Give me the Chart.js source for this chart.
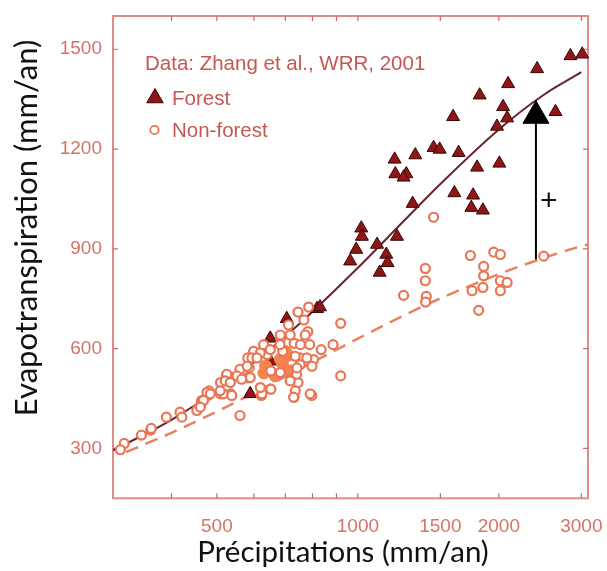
<!DOCTYPE html>
<html><head><meta charset="utf-8">
<script src="https://cdn.jsdelivr.net/npm/chart.js@4.4.0/dist/chart.umd.min.js"></script>
<style>html,body{margin:0;padding:0;background:#fff;}#wrap{width:607px;height:571px;}</style>
</head><body><div id="wrap"><canvas id="c" width="607" height="571"></canvas></div>
<script>
// ---- data ----
const forestP  = [2414,2093,1820,2042,2642,1597,2083,1982,1451,1495,1326,1641,1198,1202,1269,1252,1797,2005,1309,1607,1762,1747,1849,1212,1017,1020,992,963,1099,1150,1157,1113,818,830,2843,3013,705,650,650,589];
const forestET = [1441,1396,1362,1327,1312,1297,1293,1268,1204,1199,1182,1189,1169,1125,1125,1115,1145,1157,1036,1068,1061,1024,1016,937,962,937,898,863,913,883,858,829,720,725,1480,1485,690,631,562,464];

const nonForestP  = [1451,2494,1739,1950,2015,1393,1393,1856,1856,1849,1753,2015,2083,2015,1252,1400,1395,1811,
  919,919,885,797,560,731,745,711,767,782,789,835,804,753,753,745,740,731,684,691,652,652,622,640,599,582,582,586,560,539,524,535,509,509,481,478,455,463,417,390,361,345,317,311,
  362,421,453,464,476,516,538,525,521,552,580,594,619,629,589,624,683,
  785,717,772,754,682,650,609,735,741,778,798,683,565,619,717,735,729,791,534,508,484,468,461];
const nonForestET = [995,878,880,890,883,841,804,847,819,784,774,804,799,774,760,757,740,715,
  676,518,612,459,399,454,710,671,686,651,612,597,567,572,552,498,523,616,631,592,533,478,459,582,592,572,513,542,538,513,518,464,498,464,473,459,419,439,409,394,355,340,315,296,
  360,394,414,444,468,464,459,523,503,518,547,572,587,612,513,464,641,
  725,641,641,612,612,597,572,577,542,572,547,528,508,483,503,473,454,464,498,473,464,444,424];

const filledP  = [635,683,718,666,700,630,690,710];
const filledET = [548,568,533,518,592,527,555,580];

const curveP        = [300,400,500,600,700,800,1000,1250,1500,2000,2500,3000];
const forestCurveET = [294,386,475,558,637,711,843,982,1095,1259,1364,1431];
const grassCurveP   = [320,400,500,600,700,800,1000,1250,1500,2000,2500,3000,3100];
const grassCurveET  = [289,347,411,467,516,559,630,699,751,824,873,908,913];

const arrowP  = [2400,2400];
const arrowET = [868,1300];
const plusPoint = [2556,1046];

const xTickLabels = [500,1000,1500,2000,3000];
const xMinorTicks = [400,500,600,700,800,900,1000,1500,2000,3000];
const yTickLabels = [300,600,900,1200,1500];

const legendTitle = 'Data: Zhang et al., WRR, 2001';
const legendForest = 'Forest';
const legendNonForest = 'Non-forest';
const xTitle = 'Précipitations (mm/an)';
const yTitle = 'Evapotranspiration (mm/an)';

// ---- styles ----
const frameColor = '#e08d89';
const tickLabelColor = '#d47369';
const legendColor = '#c45752';
const triFill = '#8e1616', triEdge = '#3a0606';
const circEdge = '#ea7454';
const filledColor = '#f3844f';
const forestLine = '#6a2232';
const grassLine = '#e98163';

const pts = (xs, ys) => xs.map((x, i) => ({x, y: ys[i]}));

const framePlugin = {
  id: 'frame',
  beforeDatasetsDraw(chart) {
    const {ctx, chartArea: a, scales: {x, y}} = chart;
    ctx.save();
    ctx.strokeStyle = frameColor;
    ctx.lineWidth = 2;
    ctx.strokeRect(a.left, a.top, a.right - a.left, a.bottom - a.top);
    ctx.strokeStyle = '#c86a64';
    ctx.lineWidth = 1.2;
    const L = 5;
    ctx.beginPath();
    xMinorTicks.forEach(v => {
      const px = x.getPixelForValue(v);
      ctx.moveTo(px, a.bottom); ctx.lineTo(px, a.bottom - L);
      ctx.moveTo(px, a.top); ctx.lineTo(px, a.top + L);
    });
    yTickLabels.forEach(v => {
      const py = y.getPixelForValue(v);
      ctx.moveTo(a.left, py); ctx.lineTo(a.left + L, py);
      ctx.moveTo(a.right, py); ctx.lineTo(a.right - L, py);
    });
    ctx.stroke();
    ctx.restore();
  },
  afterDraw(chart) {
    const {ctx, scales: {x, y}} = chart;
    ctx.save();
    // legend
    ctx.fillStyle = legendColor;
    ctx.font = '20.5px "Liberation Sans", Arial, sans-serif';
    ctx.textBaseline = 'alphabetic';
    ctx.textAlign = 'left';
    ctx.fillText(legendTitle, 145, 70);
    ctx.fillText(legendForest, 172, 105);
    ctx.fillText(legendNonForest, 172, 137);
    // legend triangle
    const r = 9.5, cx = 155, cy = 98;
    ctx.beginPath();
    for (let k = 0; k < 3; k++) {
      const ang = k * 2 * Math.PI / 3;
      const vx = cx + Math.sin(ang) * r, vy = cy - Math.cos(ang) * r;
      k === 0 ? ctx.moveTo(vx, vy) : ctx.lineTo(vx, vy);
    }
    ctx.closePath();
    ctx.fillStyle = triFill; ctx.fill();
    ctx.strokeStyle = triEdge; ctx.lineWidth = 1; ctx.stroke();
    // legend circle
    ctx.beginPath();
    ctx.arc(154.5, 130, 4.2, 0, Math.PI * 2);
    ctx.fillStyle = '#fff'; ctx.fill();
    ctx.strokeStyle = circEdge; ctx.lineWidth = 1.8; ctx.stroke();
    // plus sign
    ctx.fillStyle = '#111';
    ctx.font = '30px "Liberation Sans", Arial, sans-serif';
    ctx.textAlign = 'center'; ctx.textBaseline = 'middle';
    ctx.fillText('+', x.getPixelForValue(plusPoint[0]), y.getPixelForValue(plusPoint[1]) + 1);
    // axis titles
    ctx.fillStyle = '#111';
    ctx.textAlign = 'center'; ctx.textBaseline = 'alphabetic';
    ctx.font = '29.5px Lato, "Noto Sans", sans-serif';
    ctx.fillText(xTitle, 343, 562);
    ctx.font = '31px Lato, "Noto Sans", sans-serif';
    ctx.translate(37, 228);
    ctx.rotate(-Math.PI / 2);
    ctx.fillText(yTitle, 0, 0);
    ctx.restore();
  }
};

new Chart(document.getElementById('c'), {
  type: 'scatter',
  data: {
    datasets: [
      {
        type: 'line', label: 'forest curve', data: pts(curveP, forestCurveET),
        borderColor: forestLine, borderWidth: 2, pointRadius: 0, tension: 0.4,
        cubicInterpolationMode: 'monotone', fill: false, order: 6
      },
      {
        type: 'line', label: 'grass curve', data: pts(grassCurveP, grassCurveET),
        borderColor: grassLine, borderWidth: 2.5, borderDash: [13, 8], pointRadius: 0,
        tension: 0.4, cubicInterpolationMode: 'monotone', fill: false, order: 7
      },
      {
        label: 'Forest', data: pts(forestP, forestET), pointStyle: 'triangle',
        pointRadius: 7.5, backgroundColor: triFill, borderColor: triEdge, borderWidth: 1,
        order: 5, clip: false
      },
      {
        label: 'filled', data: pts(filledP, filledET), pointStyle: 'circle',
        pointRadius: 6, backgroundColor: filledColor, borderColor: filledColor, borderWidth: 1,
        order: 4, clip: false
      },
      {
        label: 'Non-forest', data: pts(nonForestP, nonForestET), pointStyle: 'circle',
        pointRadius: 4.5, backgroundColor: '#ffffff', borderColor: circEdge, borderWidth: 2.2,
        order: 3, clip: false
      },
      {
        type: 'line', label: 'arrow', data: pts(arrowP, arrowET),
        borderColor: '#000', borderWidth: 2, pointRadius: 0, fill: false, order: 2
      },
      {
        label: 'arrow head', data: [{x: arrowP[1], y: arrowET[1]}], pointStyle: 'triangle',
        pointRadius: 15, backgroundColor: '#000', borderColor: '#000', borderWidth: 1, order: 1
      }
    ]
  },
  options: {
    responsive: false, animation: false, devicePixelRatio: 1,
    layout: {padding: {top: 10.7, right: 19, left: 0, bottom: 0}},
    plugins: {legend: {display: false}, tooltip: {enabled: false}},
    scales: {
      x: {
        type: 'logarithmic', min: 300, max: 3100,
        grid: {display: false, drawTicks: false},
        border: {display: false},
        afterBuildTicks: s => { s.ticks = xTickLabels.map(v => ({value: v})); },
        afterFit: s => { s.height = 72.7; s.paddingLeft = 0; s.paddingRight = 0; },
        ticks: {
          autoSkip: false, maxRotation: 0, padding: 17, color: tickLabelColor,
          font: {family: '"Liberation Sans", Arial, sans-serif', size: 19},
          callback: v => String(v)
        }
      },
      y: {
        type: 'linear', min: 150, max: 1600,
        grid: {display: false, drawTicks: false},
        border: {display: false},
        afterBuildTicks: s => { s.ticks = yTickLabels.map(v => ({value: v})); },
        afterFit: s => { s.width = 113; s.paddingTop = 0; s.paddingBottom = 0; },
        ticks: {
          padding: 11, color: tickLabelColor,
          font: {family: '"Liberation Sans", Arial, sans-serif', size: 19},
          callback: v => String(v)
        }
      }
    }
  },
  plugins: [framePlugin]
});
</script></body></html>
